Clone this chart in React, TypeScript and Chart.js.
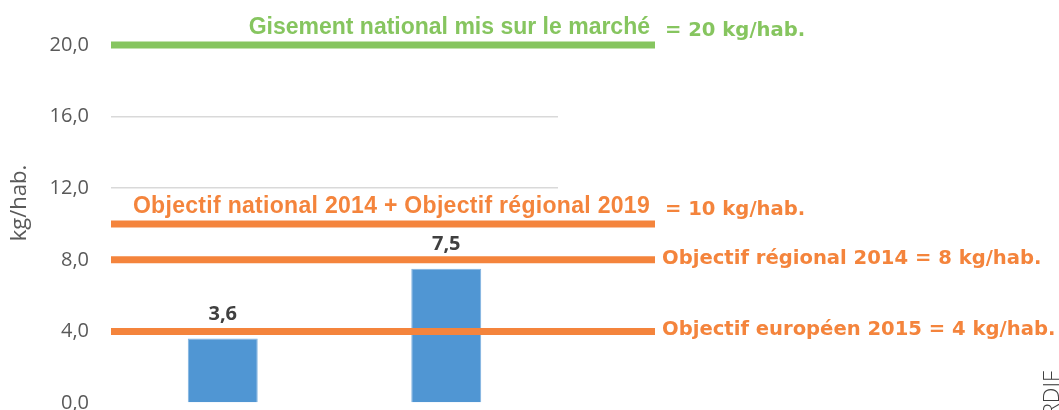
import React, { useEffect, useRef } from "react";
import { Chart, registerables } from "chart.js";

Chart.register(...registerables);

// ---- Data ----
const categories = ["Collecte A", "Collecte B"];
const collectedValues = [3.6, 7.5];
const yTickValues = [0, 4, 8, 12, 16, 20];
const thresholdValues = [20, 10, 8, 4];
const thresholdNames = [
  "Gisement national mis sur le marché",
  "Objectif national 2014 + Objectif régional 2019",
  "Objectif régional 2014",
  "Objectif européen 2015",
];
const thresholdSuffixes = ["= 20 kg/hab.", "= 10 kg/hab.", "= 8 kg/hab.", "= 4 kg/hab."];
const axisTitle = "kg/hab.";
const sourceText = "ORDIF";

// ---- Styles ----
const GREEN = "#86c55f";
const ORANGE = "#f4843c";
const thresholdColors = [GREEN, ORANGE, ORANGE, ORANGE];
const thresholdNameAbove = [true, true, false, false];
const thresholdNameSpacing = ["0px", "0.3px", "0px", "0px"];
const WIDE_FONT = 'bold 19.6px "DejaVu Sans", sans-serif';
const NARROW_FONT = 'bold 23px "Liberation Sans", Arial, sans-serif';
const TICK_COLOR = "#595959";

const fmt = (v: number) => v.toFixed(1).replace(".", ",");

const overlayPlugin = {
  id: "overlay",
  afterDatasetsDraw(chart: any) {
    const { ctx, chartArea, scales } = chart;
    const y = scales.y;
    const lineEnd = chartArea.right + 97;
    ctx.save();

    // value labels above bars
    const meta = chart.getDatasetMeta(0);
    ctx.font = 'bold 20px "Open Sans", sans-serif';
    ctx.fillStyle = "#404040";
    ctx.textAlign = "center";
    ctx.textBaseline = "alphabetic";
    meta.data.forEach((bar: any, i: number) => {
      ctx.fillText(fmt(collectedValues[i]), bar.x, bar.y - 19);
    });

    // threshold lines + labels
    thresholdValues.forEach((v, i) => {
      const py = y.getPixelForValue(v);
      ctx.strokeStyle = thresholdColors[i];
      ctx.lineWidth = 7;
      ctx.lineCap = "butt";
      ctx.beginPath();
      ctx.moveTo(chartArea.left, py);
      ctx.lineTo(lineEnd, py);
      ctx.stroke();

      ctx.fillStyle = thresholdColors[i];
      ctx.textBaseline = "alphabetic";
      if (thresholdNameAbove[i]) {
        ctx.font = NARROW_FONT;
        ctx.textAlign = "right";
        (ctx as any).letterSpacing = thresholdNameSpacing[i];
        ctx.fillText(thresholdNames[i], lineEnd - 5, py - 11);
        (ctx as any).letterSpacing = "0px";
        ctx.font = WIDE_FONT;
        ctx.textAlign = "left";
        ctx.fillText(thresholdSuffixes[i], lineEnd + 10, py - 9);
      } else {
        ctx.font = WIDE_FONT;
        ctx.textAlign = "left";
        ctx.fillText(thresholdNames[i] + " " + thresholdSuffixes[i], lineEnd + 7, py + 4);
      }
    });

    // axis title
    ctx.save();
    ctx.translate(20, 203);
    ctx.rotate(-Math.PI / 2);
    ctx.font = '22px "Open Sans", sans-serif';
    ctx.fillStyle = TICK_COLOR;
    ctx.textAlign = "center";
    ctx.textBaseline = "middle";
    ctx.fillText(axisTitle, 0, 0);
    ctx.restore();

    // source text (rotated, cut at right edge)
    ctx.save();
    ctx.translate(1059, 371);
    ctx.rotate(-Math.PI / 2);
    ctx.font = '300 22px "Open Sans", sans-serif';
    ctx.fillStyle = "#404040";
    ctx.textAlign = "right";
    ctx.textBaseline = "alphabetic";
    ctx.fillText(sourceText, 0, 0);
    ctx.restore();

    ctx.restore();
  },
};

export default function App() {
  const canvasRef = useRef<HTMLCanvasElement | null>(null);

  useEffect(() => {
    if (!canvasRef.current) return;
    const chart = new Chart(canvasRef.current, {
      type: "bar",
      data: {
        labels: categories,
        datasets: [
          {
            data: collectedValues,
            backgroundColor: "#5096d3",
            borderColor: "#7fb2df",
            borderWidth: 1,
            barPercentage: 0.313,
            categoryPercentage: 1,
          },
        ],
      },
      options: {
        responsive: false,
        animation: false,
        devicePixelRatio: 1,
        layout: { padding: { left: 0, right: 501, top: 45, bottom: 19 } },
        plugins: {
          legend: { display: false },
          tooltip: { enabled: false },
          title: { display: false },
        },
        scales: {
          x: {
            type: "category",
            display: false,
            grid: { display: false },
          },
          y: {
            min: 0,
            max: 20,
            afterBuildTicks: (scale: any) => {
              scale.ticks = yTickValues.map((v) => ({ value: v }));
            },
            afterFit: (scale: any) => {
              scale.width = 111;
            },
            ticks: {
              padding: 22,
              color: TICK_COLOR,
              font: { family: '"Open Sans", sans-serif', size: 20 },
              callback: (v: any) => fmt(Number(v)),
            },
            grid: {
              drawTicks: false,
              lineWidth: 1.5,
              color: (c: any) => (c.tick && c.tick.value === 0 ? "rgba(0,0,0,0)" : "#d9d9d9"),
            },
            border: { display: false },
          },
        },
      },
      plugins: [overlayPlugin],
    });
    return () => chart.destroy();
  }, []);

  return (
    <div
      style={{
        position: "absolute",
        left: 0,
        top: 0,
        width: 1059,
        height: 410,
        overflow: "hidden",
        background: "#ffffff",
      }}
    >
      <canvas ref={canvasRef} width={1059} height={437} style={{ display: "block" }} />
    </div>
  );
}
